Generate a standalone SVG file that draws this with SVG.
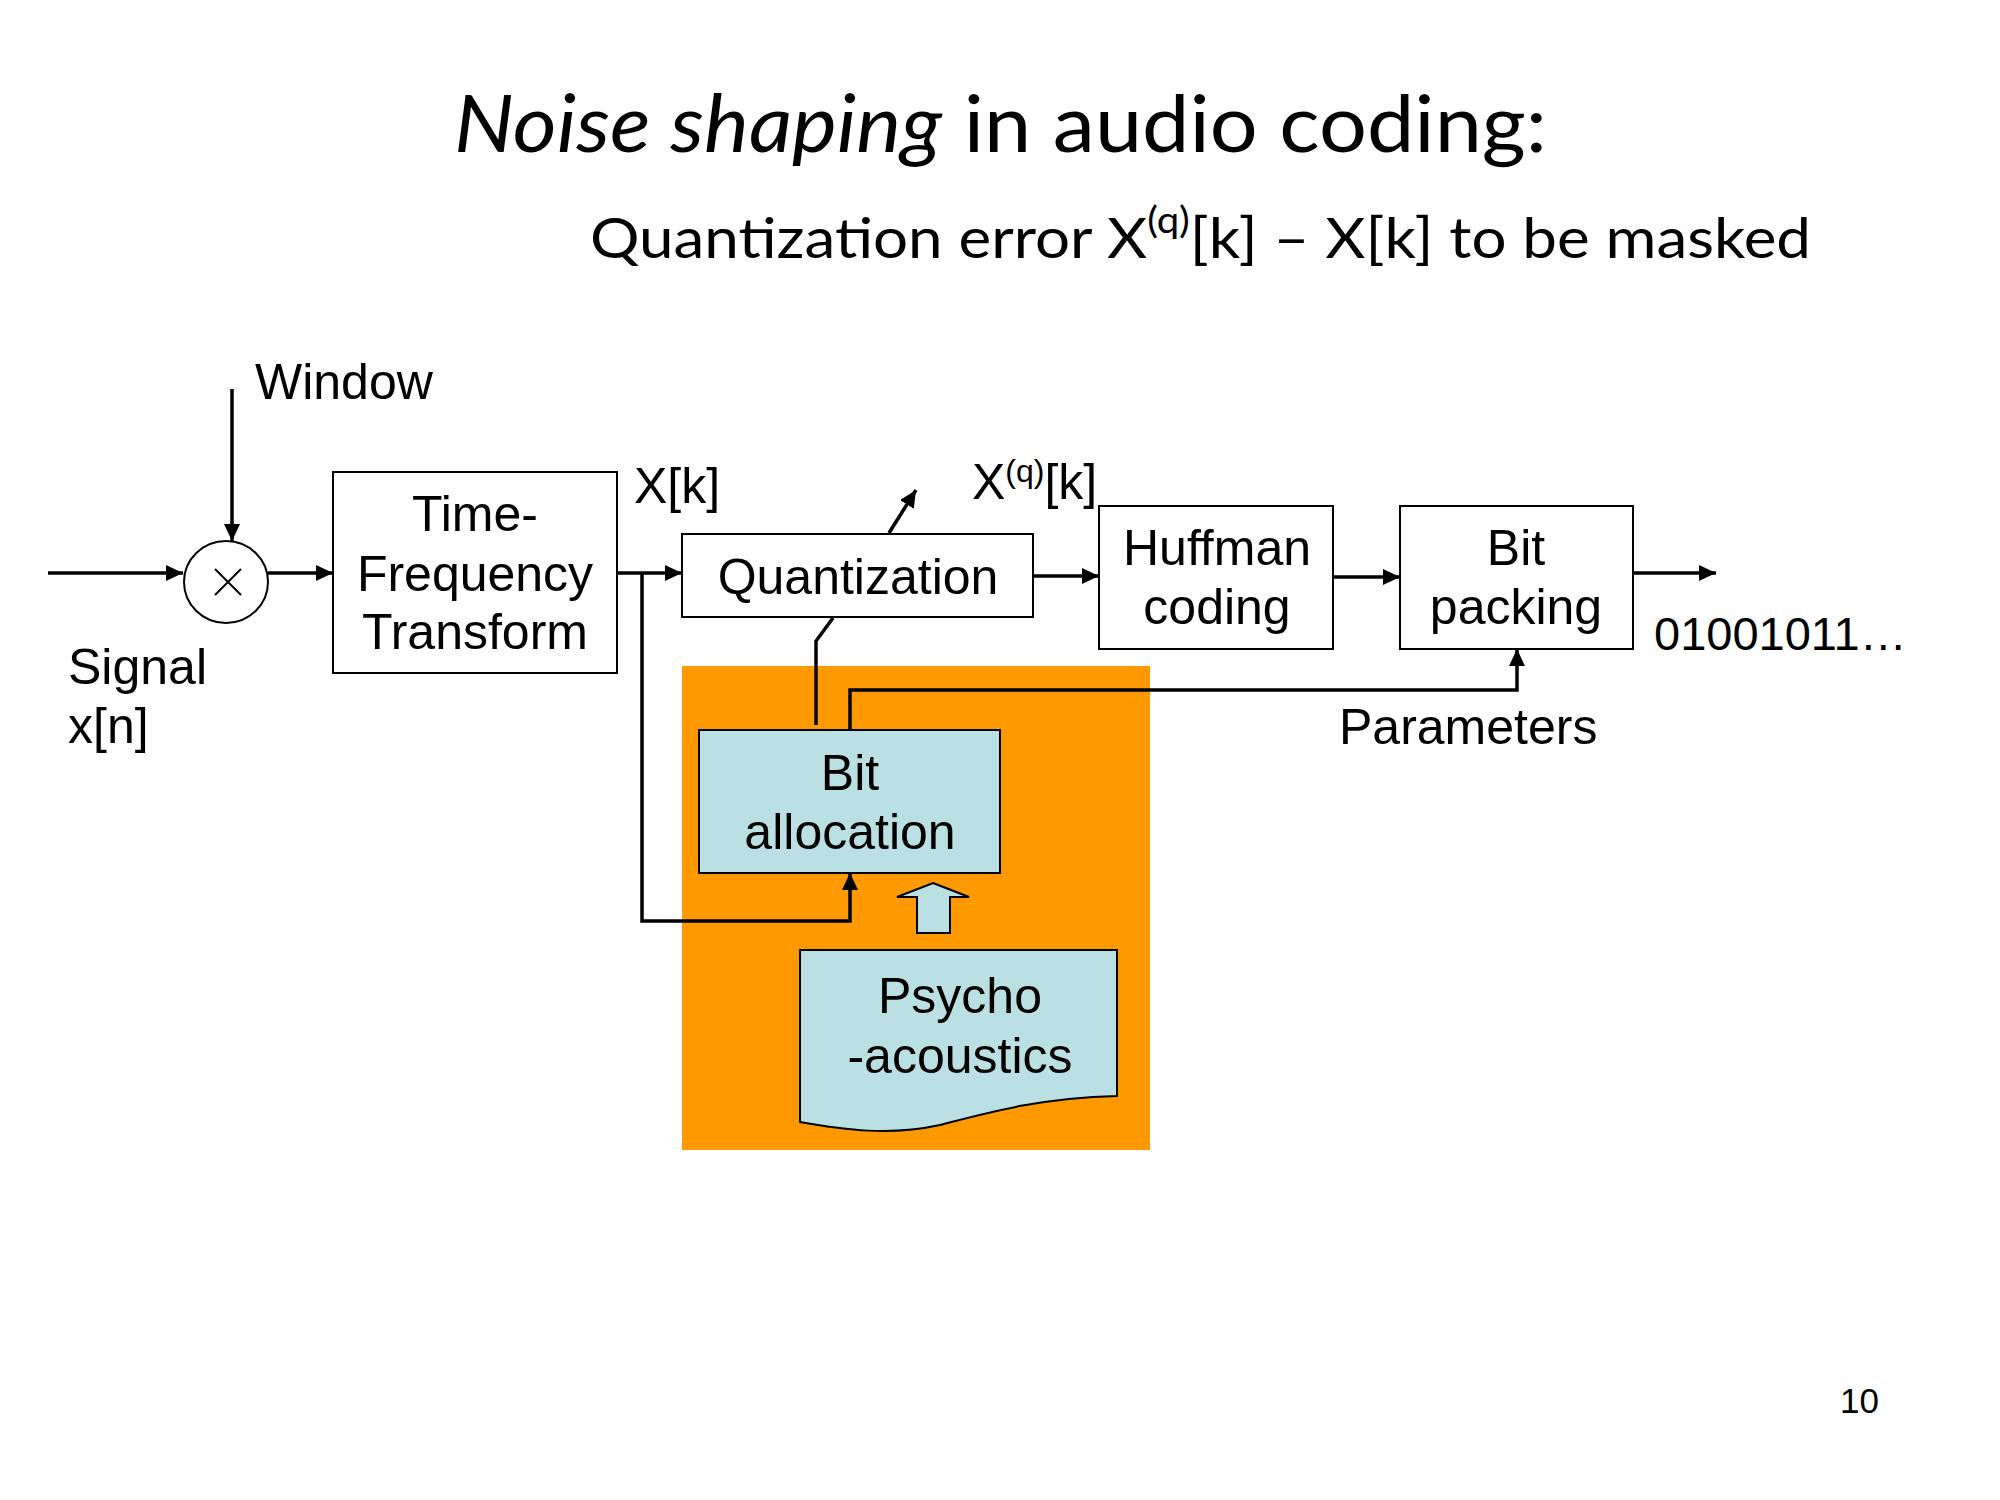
<svg xmlns="http://www.w3.org/2000/svg" width="2000" height="1500" viewBox="0 0 2000 1500">
<style>
.lbl{font-family:"Liberation Sans",Arial,sans-serif;font-size:50px;fill:#000}
.ctr{text-anchor:middle}
.box{fill:#fff;stroke:#000;stroke-width:2}
.blue{fill:#BBE0E3;stroke:#000;stroke-width:2}
.conn{fill:none;stroke:#000;stroke-width:3.5}
.ttl{font-family:Lato,"Open Sans",sans-serif;fill:#000}
</style>
<defs>
<marker id="ah" markerUnits="userSpaceOnUse" markerWidth="18" markerHeight="16" refX="17" refY="8" orient="auto">
<path d="M0,0 L17,8 L0,16 Z" fill="#000"/>
</marker>
</defs>
<rect width="2000" height="1500" fill="#fff"/>
<text class="ttl" x="454" y="152" font-size="80" textLength="1093" lengthAdjust="spacingAndGlyphs"><tspan font-style="italic">Noise shaping</tspan> in audio coding:</text>
<text class="ttl" x="590" y="258" font-size="57" textLength="1221" lengthAdjust="spacingAndGlyphs">Quantization error X<tspan font-size="37" dy="-25">(q)</tspan><tspan dy="25">[k] – X[k] to be masked</tspan></text>

<rect id="psy-bg" x="682" y="666" width="468" height="484" fill="#FF9900"/>

<g id="connectors">
<path class="conn" d="M48,573 H183" marker-end="url(#ah)"/>
<path class="conn" d="M232,389 V541" marker-end="url(#ah)"/>
<path class="conn" d="M268,573 H333" marker-end="url(#ah)"/>
<path class="conn" d="M617,573 H682" marker-end="url(#ah)"/>
<path class="conn" d="M642,573 V921 H850 V873" marker-end="url(#ah)"/>
<path class="conn" d="M889,533 L916,490" marker-end="url(#ah)"/>
<path class="conn" d="M1033,576 H1099" marker-end="url(#ah)"/>
<path class="conn" d="M1333,577 H1400" marker-end="url(#ah)"/>
<path class="conn" d="M1633,573 H1716" marker-end="url(#ah)"/>
<path class="conn" d="M833,618 L816,641 V725"/>
<path class="conn" d="M850,730 V690 H1517 V649" marker-end="url(#ah)"/>
</g>

<g id="multiplier">
<ellipse cx="226" cy="582" rx="42" ry="41" fill="#fff" stroke="#000" stroke-width="2"/>
<path d="M215,569 L241,595 M241,569 L215,595" stroke="#000" stroke-width="2"/>
</g>

<g id="tf">
<rect class="box" x="333" y="472" width="284" height="201"/>
<text class="lbl ctr" x="475" y="531">Time-</text>
<text class="lbl ctr" x="475" y="591">Frequency</text>
<text class="lbl ctr" x="475" y="649">Transform</text>
</g>

<g id="quant">
<rect class="box" x="682" y="534" width="351" height="83"/>
<text class="lbl ctr" x="858" y="594">Quantization</text>
</g>

<g id="huffman">
<rect class="box" x="1099" y="506" width="234" height="143"/>
<text class="lbl ctr" x="1217" y="565">Huffman</text>
<text class="lbl ctr" x="1217" y="624">coding</text>
</g>

<g id="bitpack">
<rect class="box" x="1400" y="506" width="233" height="143"/>
<text class="lbl ctr" x="1516" y="565">Bit</text>
<text class="lbl ctr" x="1516" y="624">packing</text>
</g>

<g id="bitalloc">
<rect class="blue" x="699" y="730" width="301" height="143"/>
<text class="lbl ctr" x="850" y="790">Bit</text>
<text class="lbl ctr" x="850" y="849">allocation</text>
</g>

<g id="blockarrow">
<path class="blue" d="M933,883 L969,897 L950,897 L950,933 L917,933 L917,897 L897,897 Z"/>
</g>

<g id="psycho">
<path class="blue" d="M800,950 H1117 V1096 C1040,1098 990,1112 940,1125 C890,1136 845,1130 800,1122 Z"/>
<text class="lbl ctr" x="960" y="1013">Psycho</text>
<text class="lbl ctr" x="960" y="1073">-acoustics</text>
</g>

<g id="labels">
<text class="lbl" x="255" y="399">Window</text>
<text class="lbl" x="68" y="684">Signal</text>
<text class="lbl" x="68" y="743">x[n]</text>
<text class="lbl" x="634" y="503">X[k]</text>
<text class="lbl" x="972" y="499">X<tspan style="font-size:32px" dy="-17">(q)</tspan><tspan dy="17">[k]</tspan></text>
<text class="lbl" x="1339" y="744">Parameters</text>
<text class="lbl" x="1654" y="650" style="font-size:47px">01001011…</text>
<text class="lbl" x="1840" y="1413" style="font-size:35px">10</text>
</g>
</svg>
